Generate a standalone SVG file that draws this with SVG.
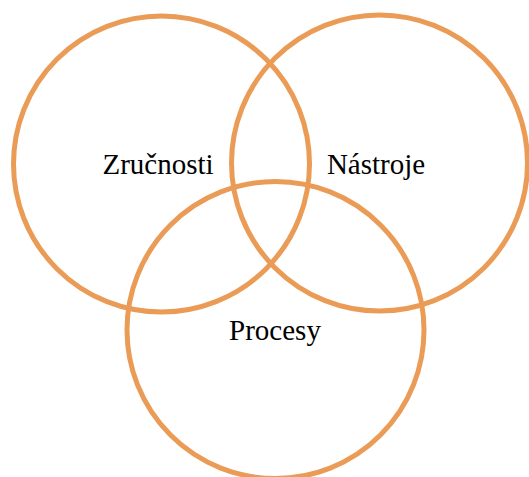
<svg xmlns="http://www.w3.org/2000/svg" width="529" height="477" viewBox="0 0 529 477">
<style>
.c{fill:none;stroke:#EA9C57;stroke-width:5}
.t{font-family:"Liberation Serif","Times New Roman",serif;font-size:29px;fill:#000;text-anchor:middle}
</style>
<rect width="529" height="477" fill="#fff"/>
<g id="zrucnosti"><circle class="c" cx="161.5" cy="164" r="148"/></g>
<g id="nastroje"><circle class="c" cx="379.5" cy="163" r="148"/></g>
<g id="procesy"><circle class="c" cx="275.5" cy="330" r="148.5"/></g>
<g id="labels">
<text class="t" x="158" y="174">Zručnosti</text>
<text class="t" x="376" y="174">Nástroje</text>
<text class="t" x="275" y="340">Procesy</text>
</g>
</svg>
